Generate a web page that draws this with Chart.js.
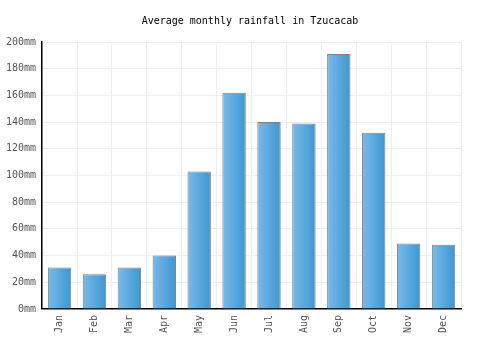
<!DOCTYPE html>
<html>
<head>
<meta charset="utf-8">
<script src="https://cdn.jsdelivr.net/npm/chart.js@4"></script>
<style>
  html, body { margin: 0; padding: 0; background: #fff; }
  #wrap { width: 500px; height: 350px; }
</style>
</head>
<body>
<div id="wrap"><canvas id="rainChart" width="500" height="350"></canvas></div>
<script>
const months = ['Jan', 'Feb', 'Mar', 'Apr', 'May', 'Jun', 'Jul', 'Aug', 'Sep', 'Oct', 'Nov', 'Dec'];
const rainfall = [31, 26, 31, 40, 103, 162, 140, 139, 191, 132, 49, 48];
const yTicks = [0, 20, 40, 60, 80, 100, 120, 140, 160, 180, 200];
const titleText = 'Average monthly rainfall in Tzucacab';

const barPct = 0.67;
const font = 'DejaVu Sans Mono';

// horizontal gradient per bar, light on the left
function barGradient(context) {
  const chart = context.chart;
  const xs = chart.scales.x;
  if (!xs || !chart.chartArea) return '#5aa8e0';
  const cx = xs.getPixelForValue(context.dataIndex);
  const half = (chart.chartArea.width / months.length) * barPct / 2;
  const g = chart.ctx.createLinearGradient(cx - half, 0, cx + half, 0);
  g.addColorStop(0, '#7ab9ea');
  g.addColorStop(1, '#3b98d0');
  return g;
}

// title centred on the whole canvas, not on the padded area
const canvasTitle = {
  id: 'canvasTitle',
  afterDraw(chart) {
    const c = chart.ctx;
    c.save();
    c.font = '10px "' + font + '"';
    c.fillStyle = '#000';
    c.textAlign = 'center';
    c.textBaseline = 'middle';
    c.fillText(titleText, chart.width / 2, 21);
    c.restore();
  }
};

const ctx = document.getElementById('rainChart').getContext('2d');
const rainChart = new Chart(ctx, {
  type: 'bar',
  data: {
    labels: months,
    datasets: [{
      data: rainfall,
      backgroundColor: barGradient,
      borderColor: '#808080',
      borderWidth: 1,
      barPercentage: barPct,
      categoryPercentage: 1
    }]
  },
  options: {
    responsive: false,
    animation: false,
    layout: { padding: { left: 0, right: 39, top: 42, bottom: 11 } },
    plugins: {
      legend: { display: false },
      tooltip: { enabled: false },
      title: { display: false }
    },
    scales: {
      x: {
        grid: { color: '#eeeeee', drawTicks: false },
        border: { color: '#000', width: 1.5 },
        ticks: {
          color: '#555',
          font: { family: font, size: 10 },
          maxRotation: 90,
          minRotation: 90,
          padding: 6
        }
      },
      y: {
        min: 0,
        max: 200,
        afterBuildTicks: (axis) => { axis.ticks = yTicks.map(v => ({ value: v })); },
        grid: { color: '#eeeeee', drawTicks: false },
        border: { color: '#000', width: 1.5 },
        ticks: {
          color: '#555',
          font: { family: font, size: 10 },
          padding: 6,
          callback: (v) => v + 'mm'
        }
      }
    }
  },
  plugins: [canvasTitle]
});
</script>
</body>
</html>
